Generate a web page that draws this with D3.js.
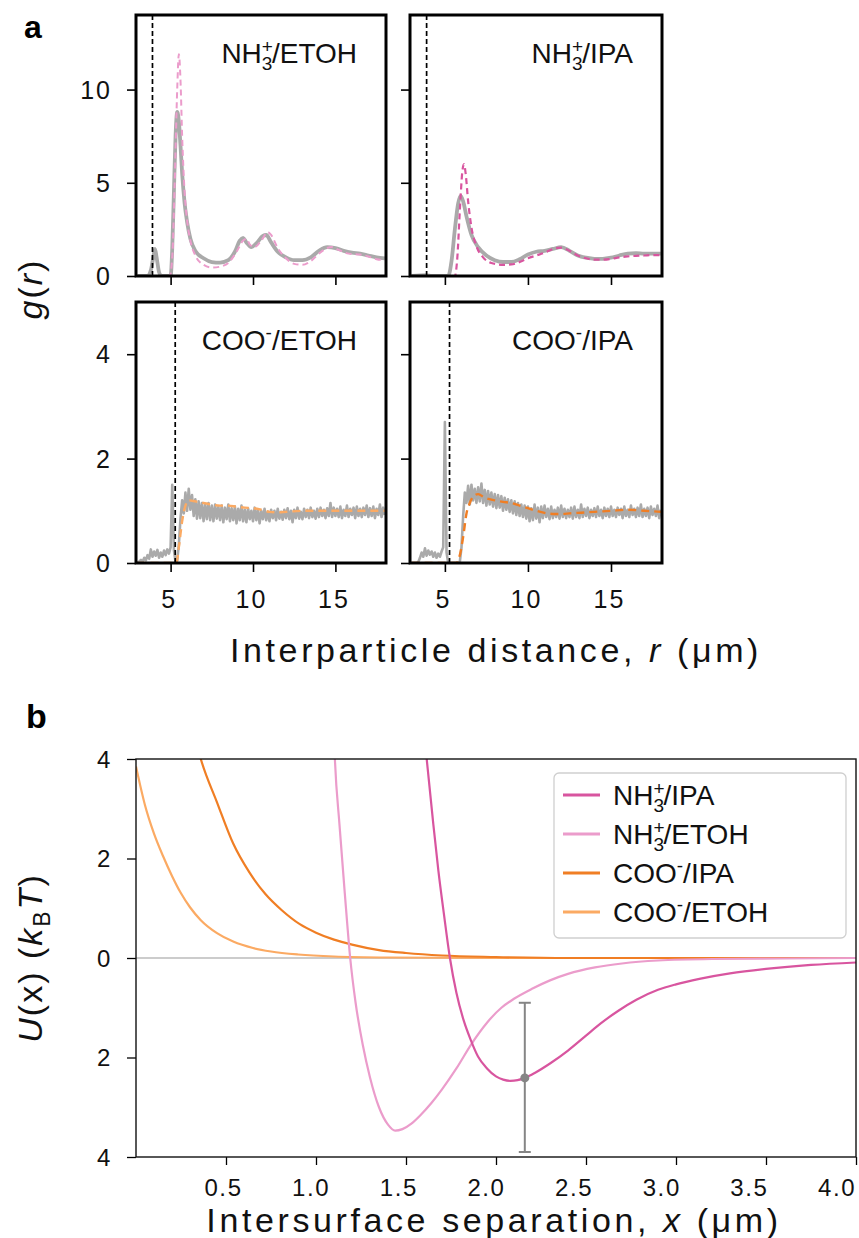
<!DOCTYPE html>
<html><head><meta charset="utf-8">
<script src="https://cdn.jsdelivr.net/npm/d3@7/dist/d3.min.js"></script>
<style>
body{margin:0;background:#fff;}
svg{display:block;font-family:"Liberation Sans",Arial,Helvetica,sans-serif;}
</style></head>
<body><svg id="chart" width="859" height="1238"></svg>
<script>
// ---------- DATA: panel a (g(r)) ----------
const rTicks = [5, 10, 15];
const yTicksTop = [0, 5, 10];
const yTicksBottom = [0, 2, 4];

// NH3+/ETOH (top-left)
const nh3EtohExp = [[3.0,0],[3.6,0],[3.8,0.3],[3.95,1.0],[4.05,1.45],[4.15,1.0],[4.3,0.2],[4.45,0],[5.0,0],[5.1,1.5],[5.2,4.5],[5.3,7.5],[5.4,8.8],[5.5,8.3],[5.6,7.0],[5.7,5.5],[5.85,3.9],[6.0,2.9],[6.2,2.0],[6.5,1.35],[7.0,0.95],[7.5,0.75],[8.0,0.72],[8.5,0.85],[8.9,1.3],[9.2,1.9],[9.4,2.05],[9.6,1.8],[9.9,1.55],[10.2,1.75],[10.6,2.15],[10.8,2.2],[11.1,1.8],[11.5,1.3],[12.0,1.0],[12.5,0.85],[13.0,0.85],[13.5,1.0],[14.0,1.35],[14.5,1.55],[15.0,1.5],[15.5,1.35],[16.0,1.25],[16.5,1.2],[17.0,1.1],[17.5,1.0],[18.0,0.95]];
const nh3EtohSim = [[3.0,0],[4.95,0],[5.1,1.0],[5.25,5],[5.4,10],[5.5,11.9],[5.6,10.5],[5.7,7.5],[5.85,4.5],[6.0,3.0],[6.2,1.9],[6.5,1.1],[7.0,0.6],[7.5,0.45],[8.0,0.5],[8.5,0.7],[9.0,1.3],[9.4,1.9],[9.6,2.0],[9.8,1.7],[10.1,1.55],[10.5,1.9],[10.9,2.35],[11.1,2.2],[11.5,1.5],[12.0,0.95],[12.5,0.65],[13.0,0.6],[13.5,0.8],[14.0,1.2],[14.5,1.5],[14.8,1.55],[15.2,1.4],[15.8,1.2],[16.5,1.15],[17.0,1.05],[17.5,0.9],[18.0,0.85]];

// NH3+/IPA (top-right)
const nh3IpaExp = [[3.0,0],[3.9,0.05],[4.2,0],[5.2,0],[5.4,0.8],[5.6,2.5],[5.8,3.9],[5.95,4.3],[6.1,4.0],[6.3,3.2],[6.6,2.2],[7.0,1.55],[7.5,1.1],[8.0,0.85],[8.5,0.75],[9.0,0.75],[9.5,0.9],[10.0,1.15],[10.5,1.3],[11.0,1.35],[11.5,1.45],[12.0,1.55],[12.5,1.35],[13.0,1.1],[13.5,0.98],[14.0,0.92],[14.5,0.92],[15.0,0.98],[15.5,1.1],[16.0,1.2],[16.5,1.22],[17.0,1.2],[17.5,1.2],[18.0,1.2]];
const nh3IpaSim = [[3.0,0],[5.6,0],[5.75,1.0],[5.9,3.5],[6.05,5.6],[6.15,6.0],[6.25,5.5],[6.4,4.0],[6.6,2.6],[6.9,1.6],[7.3,1.0],[7.8,0.7],[8.5,0.6],[9.0,0.62],[9.5,0.75],[10.0,0.95],[10.5,1.1],[11.0,1.25],[11.5,1.45],[12.0,1.52],[12.5,1.35],[13.0,1.1],[13.5,0.95],[14.0,0.88],[14.5,0.88],[15.0,0.92],[15.5,1.0],[16.0,1.05],[16.5,1.08],[17.0,1.1],[17.5,1.12],[18.0,1.12]];

// COO-/ETOH and COO-/IPA experimental g(r), sampled every 0.1 um from r = 3.0
const expStart = 3.0, expStep = 0.1;
const cooEtohExp = [0.00,0.03,0.06,0.02,0.10,0.05,0.15,0.08,0.26,0.12,
 0.22,0.14,0.25,0.10,0.20,0.12,0.24,0.15,0.26,0.18,
 0.30,1.50,0.25,0.02,0.05,0.35,0.85,1.20,0.95,1.35,
 1.00,1.42,1.02,1.30,0.90,1.22,0.85,1.18,0.86,1.15,
 0.80,1.12,0.84,1.15,0.82,1.10,0.80,1.12,0.85,1.08,
 0.82,1.10,0.78,1.06,0.84,1.12,0.80,1.05,0.82,1.08,
 0.76,1.04,0.82,1.10,0.80,1.02,0.78,1.05,0.84,1.00,
 0.80,1.06,0.82,1.02,0.76,1.00,0.84,1.04,0.82,0.98,
 0.80,1.02,0.86,1.00,0.82,1.04,0.85,0.98,0.83,1.02,
 0.86,1.05,0.84,1.00,0.78,1.02,0.86,1.06,0.85,0.98,
 0.84,1.04,0.88,1.02,0.86,1.06,0.88,1.00,0.85,1.04,
 0.88,1.06,0.90,1.02,0.86,1.05,0.90,1.15,0.88,1.06,
 0.90,1.04,0.88,1.08,0.86,1.02,0.90,1.10,0.88,1.04,
 0.92,1.06,0.86,1.08,0.90,1.04,0.88,1.06,0.92,1.10,
 0.88,1.05,0.90,1.08,0.86,1.04,0.92,1.12,0.88,1.06,0.92];
const cooIpaExp = [0.00,0.00,0.00,0.00,0.02,0.10,0.20,0.12,0.28,0.14,
 0.24,0.16,0.22,0.12,0.20,0.10,0.18,0.12,0.22,0.30,
 2.70,0.20,0.00,0.00,0.00,0.00,0.00,0.00,0.00,0.02,
 0.30,0.90,1.35,1.15,1.48,1.12,1.50,1.20,1.42,1.15,
 1.45,1.18,1.52,1.15,1.40,1.10,1.38,1.12,1.35,1.08,
 1.32,1.05,1.30,1.06,1.28,1.00,1.25,1.02,1.22,0.98,
 1.20,0.95,1.18,0.92,1.15,0.90,1.12,0.88,1.10,0.85,
 1.08,0.80,1.05,0.82,1.12,0.85,1.06,0.78,1.08,0.86,
 1.10,0.88,1.04,0.84,1.08,0.86,1.02,0.88,1.06,0.85,
 1.10,0.88,1.04,0.86,1.02,0.88,1.06,0.85,1.08,0.88,
 1.02,0.86,1.12,0.88,1.04,0.90,1.06,0.86,1.02,0.90,
 1.05,0.88,1.08,0.90,1.02,0.86,1.06,0.90,1.04,0.88,
 1.08,0.90,1.02,0.88,1.06,0.92,1.04,0.86,1.08,0.90,
 1.02,0.88,1.10,0.92,1.04,0.88,1.06,0.90,1.12,0.88,
 1.04,0.90,1.06,0.86,1.08,0.92,1.04,0.90,1.10,0.86,1.02];
const cooEtohSim = [[3.0,0],[5.35,0],[5.5,0.3],[5.7,0.8],[5.9,1.1],[6.1,1.2],[6.5,1.18],[7.0,1.15],[7.5,1.12],[8.0,1.1],[8.5,1.1],[9.0,1.08],[9.5,1.06],[10.0,1.05],[10.5,1.02],[11.0,0.98],[11.5,0.97],[12.0,0.98],[13.0,1.0],[14.0,1.0],[15.0,1.0],[16.0,1.0],[17.0,1.0],[18.0,1.0]];
const cooIpaSim = [[3.0,0],[5.7,0],[5.9,0.15],[6.1,0.5],[6.3,0.95],[6.5,1.15],[6.8,1.3],[7.0,1.32],[7.4,1.25],[8.0,1.2],[8.5,1.17],[9.0,1.15],[9.5,1.1],[10.0,1.05],[10.5,1.0],[11.0,0.96],[11.5,0.94],[12.0,0.94],[12.5,0.95],[13.0,0.96],[14.0,0.98],[15.0,1.0],[16.0,1.02],[17.0,1.0],[18.0,0.98]];

// contact distance (dashed black line)
const contactNH3 = 3.9, contactCOO = 5.28;

// ---------- DATA: panel b (U(x)) ----------
const xTicksB = [0.5, 1.0, 1.5, 2.0, 2.5, 3.0, 3.5, 4.0];
const yTicksB = [-4, -2, 0, 2, 4];
const yTickLabelsB = ["4", "2", "0", "2", "4"];
const uNh3Ipa = [[1.59,5.0],[1.615,4.0],[1.65,2.75],[1.68,1.75],[1.71,0.9],[1.744,0.0],[1.78,-0.7],[1.82,-1.25],[1.86,-1.65],[1.9,-1.98],[1.95,-2.22],[2.0,-2.38],[2.04,-2.445],[2.08,-2.47],[2.12,-2.455],[2.16,-2.41],[2.22,-2.3],[2.3,-2.12],[2.4,-1.86],[2.5,-1.56],[2.58,-1.32],[2.68,-1.06],[2.78,-0.84],[2.9,-0.64],[3.0,-0.53],[3.13,-0.42],[3.3,-0.31],[3.5,-0.22],[3.75,-0.14],[4.0,-0.09]];
const uNh3Etoh = [[1.095,5.0],[1.105,4.0],[1.13,2.7],[1.16,1.3],[1.19,0.0],[1.22,-0.9],[1.26,-1.75],[1.3,-2.4],[1.35,-3.0],[1.4,-3.35],[1.44,-3.47],[1.48,-3.44],[1.53,-3.33],[1.58,-3.16],[1.64,-2.92],[1.7,-2.64],[1.78,-2.22],[1.865,-1.72],[1.95,-1.3],[2.03,-1.0],[2.1,-0.82],[2.2,-0.62],[2.3,-0.45],[2.4,-0.32],[2.55,-0.19],[2.7,-0.11],[2.9,-0.05],[3.2,-0.02],[3.6,-0.01],[4.0,0.0]];
const uCooIpa = [[0.33,4.4],[0.36,4.0],[0.45,3.13],[0.54,2.3],[0.63,1.72],[0.72,1.28],[0.81,0.96],[0.91,0.68],[1.0,0.51],[1.1,0.37],[1.2,0.27],[1.35,0.16],[1.5,0.1],[1.7,0.05],[2.0,0.02],[2.4,0.0],[4.0,0.0]];
const uCooEtoh = [[0.0,3.85],[0.05,3.07],[0.1,2.5],[0.15,2.05],[0.2,1.65],[0.25,1.3],[0.3,1.02],[0.36,0.76],[0.45,0.5],[0.54,0.33],[0.65,0.2],[0.75,0.13],[0.9,0.07],[1.1,0.03],[1.4,0.01],[2.0,0.0],[4.0,0.0]];
const errPoint = {x: 2.16, u: -2.41, hi: -0.9, lo: -3.9};

const legendNames = ["NH3+/IPA", "NH3+/ETOH", "COO-/IPA", "COO-/ETOH"];

// ---------- STYLES ----------
const C = {
  nh3Ipa: "#d8559f", nh3Etoh: "#eb9ccb", cooIpa: "#f07e24", cooEtoh: "#fbaa63",
  gray: "#aaaaaa", err: "#858585"
};
const FONT_TICK = 24, FONT_TITLE = 34, FONT_LBL = 28;

const svg = d3.select("#chart");

// helper: chemical label with stacked sub/sup
function chemText(sel, name, size) {
  const sm = Math.round(size * 0.68);
  const m = name.match(/^(NH)3\+(\/.*)$/);
  if (m) {
    sel.append("tspan").text("NH");
    sel.append("tspan").attr("font-size", sm).attr("dy", size * 0.26).text("3");
    sel.append("tspan").attr("font-size", sm).attr("dx", -sm * 0.56).attr("dy", -size * 0.62).text("+");
    sel.append("tspan").attr("dx", -sm * 0.05).attr("dy", size * 0.36).text(m[2]);
  } else {
    const k = name.match(/^(COO)-(\/.*)$/);
    sel.append("tspan").text("COO");
    sel.append("tspan").attr("font-size", sm).attr("dy", -size * 0.38).text("-");
    sel.append("tspan").attr("dy", size * 0.38).text(k[2]);
  }
}

// ---------- PANEL a ----------
const rDomain = [2.9, 18.07];
function panelA(cfg) {
  const {x0, x1, y0, y1, yMax, yTicks, yLabels, xLabels, contact, exp, sim, simColor, simWidth, simDash, label, clipId} = cfg;
  const x = d3.scaleLinear().domain(rDomain).range([x0, x1]);
  const y = d3.scaleLinear().domain([0, yMax]).range([y1, y0]);
  const g = svg.append("g");
  g.append("clipPath").attr("id", clipId).append("rect")
    .attr("x", x0).attr("y", y0).attr("width", x1 - x0).attr("height", y1 - y0);
  const plot = g.append("g").attr("clip-path", `url(#${clipId})`);
  const expLine = d3.line().x(d => x(d[0])).y(d => y(d[1]));
  if (cfg.expSmooth) expLine.curve(d3.curveMonotoneX);
  plot.append("path").attr("d", expLine(exp))
    .attr("fill", "none").attr("stroke", C.gray).attr("stroke-width", cfg.expWidth).attr("stroke-linejoin", "round");
  plot.append("path").attr("d", d3.line().x(d => x(d[0])).y(d => y(d[1])).curve(d3.curveMonotoneX)(sim))
    .attr("fill", "none").attr("stroke", simColor).attr("stroke-width", simWidth).attr("stroke-dasharray", simDash);
  plot.append("line").attr("x1", x(contact)).attr("x2", x(contact)).attr("y1", y0).attr("y2", y1)
    .attr("stroke", "#000").attr("stroke-width", 1.7).attr("stroke-dasharray", "5,3");
  const ax = g.append("g").attr("transform", `translate(0,${y1})`)
    .call(d3.axisBottom(x).tickValues(rTicks).tickSize(9).tickPadding(18).tickFormat(xLabels ? d3.format("d") : ""));
  const ay = g.append("g").attr("transform", `translate(${x0},0)`)
    .call(d3.axisLeft(y).tickValues(yTicks).tickSize(9).tickPadding(15).tickFormat(yLabels ? d3.format("d") : ""));
  [ax, ay].forEach(a => {
    a.select(".domain").remove();
    a.selectAll(".tick line").attr("stroke", "#000").attr("stroke-width", 1.6);
    a.selectAll(".tick text").attr("font-size", 25).attr("fill", "#111")
      .attr("font-family", "Liberation Sans, Arial, sans-serif").style("letter-spacing", "2px");
  });
  ax.selectAll(".tick text").attr("dx", -2);
  ay.selectAll(".tick text").attr("dy", "0.35em");
  g.append("rect").attr("x", x0).attr("y", y0).attr("width", x1 - x0).attr("height", y1 - y0)
    .attr("fill", "none").attr("stroke", "#000").attr("stroke-width", 3);
  const t = g.append("text").attr("x", x1 - 29).attr("y", y0 + 48).attr("text-anchor", "end")
    .attr("font-size", FONT_LBL).attr("fill", "#111");
  chemText(t, label, FONT_LBL);
}

const seq = arr => arr.map((v, i) => [expStart + i * expStep, v]);

panelA({x0: 136, x1: 386, y0: 15, y1: 276, yMax: 14, yTicks: yTicksTop, yLabels: true, xLabels: false,
  contact: contactNH3, exp: nh3EtohExp, expSmooth: true, expWidth: 3.8, sim: nh3EtohSim, simColor: C.nh3Etoh,
  simWidth: 2, simDash: "6,4", label: "NH3+/ETOH", clipId: "c1"});
panelA({x0: 410, x1: 662, y0: 15, y1: 276, yMax: 14, yTicks: yTicksTop, yLabels: false, xLabels: false,
  contact: contactNH3, exp: nh3IpaExp, expSmooth: true, expWidth: 3.8, sim: nh3IpaSim, simColor: C.nh3Ipa,
  simWidth: 2.2, simDash: "6,4", label: "NH3+/IPA", clipId: "c2"});
panelA({x0: 136, x1: 386, y0: 302, y1: 563, yMax: 5, yTicks: yTicksBottom, yLabels: true, xLabels: true,
  contact: contactCOO, exp: seq(cooEtohExp), expSmooth: false, expWidth: 2.6, sim: cooEtohSim, simColor: C.cooEtoh,
  simWidth: 2.4, simDash: "8,5", label: "COO-/ETOH", clipId: "c3"});
panelA({x0: 410, x1: 662, y0: 302, y1: 563, yMax: 5, yTicks: yTicksBottom, yLabels: false, xLabels: true,
  contact: contactCOO, exp: seq(cooIpaExp), expSmooth: false, expWidth: 2.6, sim: cooIpaSim, simColor: C.cooIpa,
  simWidth: 2.4, simDash: "8,5", label: "COO-/IPA", clipId: "c4"});

// panel a labels
svg.append("text").attr("x", 24).attr("y", 38).attr("font-size", 32).attr("font-weight", "bold").text("a");
const gr = svg.append("text").attr("transform", "translate(42,289) rotate(-90)").attr("text-anchor", "middle")
  .attr("font-size", FONT_TITLE).style("letter-spacing", "2px").attr("fill", "#111");
gr.append("tspan").attr("font-style", "italic").text("g");
gr.append("tspan").text("(");
gr.append("tspan").attr("font-style", "italic").text("r");
gr.append("tspan").text(")");
const xtA = svg.append("text").attr("x", 496).attr("y", 662).attr("text-anchor", "middle")
  .attr("font-size", FONT_TITLE).style("letter-spacing", "3.6px").attr("fill", "#111");
xtA.append("tspan").text("Interparticle distance, ");
xtA.append("tspan").attr("font-style", "italic").text("r");
xtA.append("tspan").text(" (μm)");

// ---------- PANEL b ----------
const bx0 = 136, bx1 = 856, by0 = 759, by1 = 1157;
const xb = d3.scaleLinear().domain([0, 4.0]).range([bx0, bx1]);
const yb = d3.scaleLinear().domain([-4, 4]).range([by1, by0]);
const gb = svg.append("g");
gb.append("clipPath").attr("id", "cb").append("rect").attr("x", bx0).attr("y", by0).attr("width", bx1 - bx0).attr("height", by1 - by0);
const pb = gb.append("g").attr("clip-path", "url(#cb)");
pb.append("line").attr("x1", bx0).attr("x2", bx1).attr("y1", yb(0)).attr("y2", yb(0)).attr("stroke", "#9a9a9a").attr("stroke-width", 1.2);
const lb = d3.line().x(d => xb(d[0])).y(d => yb(d[1])).curve(d3.curveMonotoneX);
[[uCooEtoh, C.cooEtoh], [uCooIpa, C.cooIpa], [uNh3Etoh, C.nh3Etoh], [uNh3Ipa, C.nh3Ipa]].forEach(([d, c]) => {
  pb.append("path").attr("d", lb(d)).attr("fill", "none").attr("stroke", c).attr("stroke-width", 2.2);
});
// error bar
const ex = xb(errPoint.x);
pb.append("line").attr("x1", ex).attr("x2", ex).attr("y1", yb(errPoint.hi)).attr("y2", yb(errPoint.lo)).attr("stroke", C.err).attr("stroke-width", 2);
[errPoint.hi, errPoint.lo].forEach(v => pb.append("line").attr("x1", ex - 6).attr("x2", ex + 6).attr("y1", yb(v)).attr("y2", yb(v)).attr("stroke", C.err).attr("stroke-width", 2));
pb.append("circle").attr("cx", ex).attr("cy", yb(errPoint.u)).attr("r", 4.5).attr("fill", C.err);

const axb = gb.append("g").attr("transform", `translate(0,${by1})`)
  .call(d3.axisBottom(xb).tickValues(xTicksB).tickSize(8).tickPadding(14).tickFormat(d3.format(".1f")));
const ayb = gb.append("g").attr("transform", `translate(${bx0},0)`)
  .call(d3.axisLeft(yb).tickValues(yTicksB).tickSize(9).tickPadding(15).tickFormat((d, i) => yTickLabelsB[i]));
[axb, ayb].forEach(a => {
  a.select(".domain").remove();
  a.selectAll(".tick line").attr("stroke", "#000").attr("stroke-width", 1.3);
  a.selectAll(".tick text").attr("font-size", FONT_TICK).attr("fill", "#111")
    .attr("font-family", "Liberation Sans, Arial, sans-serif").style("letter-spacing", "1.6px");
});
// tick labels in the reference sit slightly left of their ticks, progressively
axb.selectAll(".tick text").attr("dx", d => -3 - (d - 0.5) * 4.7);
ayb.selectAll(".tick text").attr("dy", "0.35em");
gb.append("rect").attr("x", bx0).attr("y", by0).attr("width", bx1 - bx0).attr("height", by1 - by0)
  .attr("fill", "none").attr("stroke", "#111").attr("stroke-width", 1.4);

// legend
const lg = gb.append("g");
lg.append("rect").attr("x", 554).attr("y", 773).attr("width", 292).attr("height", 165).attr("rx", 5)
  .attr("fill", "#fff").attr("fill-opacity", 0.85).attr("stroke", "#cfcfcf").attr("stroke-width", 1.3);
const legColors = [C.nh3Ipa, C.nh3Etoh, C.cooIpa, C.cooEtoh];
legendNames.forEach((n, i) => {
  const yy = 795 + i * 39;
  lg.append("line").attr("x1", 563).attr("x2", 600).attr("y1", yy).attr("y2", yy).attr("stroke", legColors[i]).attr("stroke-width", 3);
  const t = lg.append("text").attr("x", 613).attr("y", yy + 10).attr("font-size", FONT_LBL).attr("fill", "#111");
  chemText(t, n, FONT_LBL);
});

svg.append("text").attr("x", 26).attr("y", 728).attr("font-size", 34).attr("font-weight", "bold").text("b");
const uy = svg.append("text").attr("transform", "translate(42,958) rotate(-90)").attr("text-anchor", "middle")
  .attr("font-size", FONT_TITLE).style("letter-spacing", "2px").attr("fill", "#111");
uy.append("tspan").attr("font-style", "italic").text("U");
uy.append("tspan").text("(x) (");
uy.append("tspan").attr("font-style", "italic").text("k");
uy.append("tspan").attr("font-size", 23).attr("dy", 8).text("B");
uy.append("tspan").attr("font-style", "italic").attr("dy", -8).text("T");
uy.append("tspan").text(")");
const xtB = svg.append("text").attr("x", 494).attr("y", 1232).attr("text-anchor", "middle")
  .attr("font-size", FONT_TITLE).style("letter-spacing", "3.6px").attr("fill", "#111");
xtB.append("tspan").text("Intersurface separation, ");
xtB.append("tspan").attr("font-style", "italic").text("x");
xtB.append("tspan").text(" (μm)");
</script></body></html>
